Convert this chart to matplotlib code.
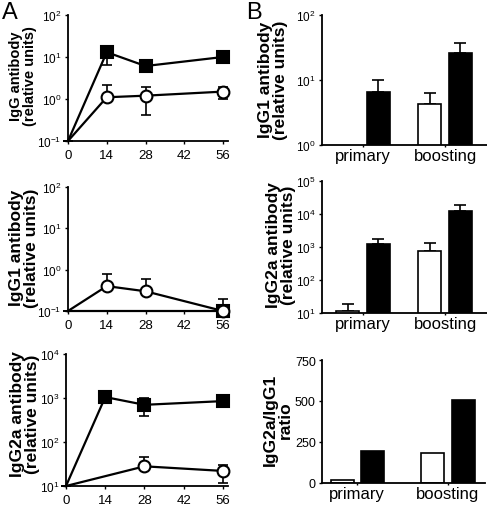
import numpy as np
import matplotlib
matplotlib.use("Agg")
import matplotlib.pyplot as plt
from matplotlib.ticker import FixedLocator, FixedFormatter

plt.rcParams['font.family'] = ['Liberation Sans', 'DejaVu Sans']
plt.rcParams['mathtext.fontset'] = 'custom'
plt.rcParams['mathtext.rm'] = 'Liberation Sans'
plt.rcParams['mathtext.it'] = 'Liberation Sans'
plt.rcParams['mathtext.bf'] = 'Liberation Sans:bold'

# ---------------- data ----------------
days = [0, 14, 28, 56]
day_ticks = [0, 14, 28, 42, 56]

# Panel A1: IgG
igg_sq = [0.1, 13, 6.1, 10]
igg_sq_lo = [0.1, 6.5, 6.1, 10]
igg_sq_hi = [0.1, 13, 6.1, 10]
igg_ci = [0.1, 1.1, 1.2, 1.5]
igg_ci_lo = [0.1, 1.1, 0.42, 1.0]
igg_ci_hi = [0.1, 2.1, 1.9, 1.9]

# Panel A2: IgG1
igg1_sq = [0.1, 0.1, 0.1, 0.1]
igg1_ci = [0.1, 0.4, 0.3, 0.1]
igg1_ci_lo = [0.1, 0.4, 0.3, 0.1]
igg1_ci_hi = [0.1, 0.78, 0.59, 0.2]

# Panel A3: IgG2a
igg2a_sq = [10, 1050, 700, 850]
igg2a_sq_lo = [10, 780, 390, 850]
igg2a_sq_hi = [10, 1050, 1000, 850]
days_ci3 = [0, 28, 56]
igg2a_ci = [10, 28, 22]
igg2a_ci_lo = [10, 28, 12]
igg2a_ci_hi = [10, 45, 30]

# Panel B
groups = ["primary", "boosting"]
b1_open = [np.nan, 4.3]
b1_open_hi = [np.nan, 6.3]
b1_black = [6.5, 26]
b1_black_hi = [10, 37]

b2_open = [11.5, 760]
b2_open_hi = [18.6, 1330]
b2_black = [1250, 12400]
b2_black_hi = [1740, 18600]

b3_open = [18, 183]
b3_black = [195, 506]

# ---------------- layout ----------------
W, H = 487, 506
fig = plt.figure(figsize=(W / 100, H / 100), dpi=100)

def add_ax(left, right, top, bottom):
    return fig.add_axes([left / W, 1 - bottom / H, (right - left) / W, (bottom - top) / H])

LW = 1.3

def style(ax):
    for s in ['top', 'right']:
        ax.spines[s].set_visible(False)
    for s in ['left', 'bottom']:
        ax.spines[s].set_linewidth(LW)
    ax.tick_params(which='both', direction='out', width=1.0, length=2.5, labelsize=8.5, pad=2)
    ax.tick_params(which='minor', length=0)

def logticks(ax, lo, hi):
    ax.set_yscale('log')
    ax.set_ylim(10.0 ** lo, 10.0 ** hi)
    exps = list(range(lo, hi + 1))
    ax.yaxis.set_major_locator(FixedLocator([10.0 ** e for e in exps]))
    ax.yaxis.set_major_formatter(FixedFormatter([r'$\mathregular{10^{%d}}$' % e for e in exps]))
    ax.yaxis.set_minor_locator(FixedLocator([]))

def err(v, lo, hi):
    v, lo, hi = np.array(v, float), np.array(lo, float), np.array(hi, float)
    return np.vstack([v - lo, hi - v])

def line_panel(ax, xs, ys, lo, hi, marker, face, mevery, z):
    if lo is not None:
        ax.errorbar(xs, ys, yerr=err(ys, lo, hi), fmt='none', ecolor='black',
                    elinewidth=1.2, capsize=3.5, capthick=1.2, zorder=z, clip_on=False)
    ax.plot(xs, ys, color='black', lw=1.6, marker=marker, ms=8.5, mfc=face,
            mec='black', mew=1.5, markevery=mevery, zorder=z + 1, clip_on=False)

def xaxis_days(ax):
    ax.set_xlim(0, 57.8)
    ax.set_xticks(day_ticks)
    ax.set_xticklabels([str(d) for d in day_ticks])
    ax.tick_params(axis='x', labelsize=9.5, pad=3)

# A1
a1 = add_ax(68, 228, 16, 142)
style(a1)
logticks(a1, -1, 2)
xaxis_days(a1)
line_panel(a1, days, igg_sq, igg_sq_lo, igg_sq_hi, 's', 'black', [1, 2, 3], 3)
line_panel(a1, days, igg_ci, igg_ci_lo, igg_ci_hi, 'o', 'white', [1, 2, 3], 5)

# A2
a2 = add_ax(68, 228, 188, 312)
style(a2)
logticks(a2, -1, 2)
xaxis_days(a2)
line_panel(a2, days, igg1_sq, None, None, 's', 'black', [3], 3)
line_panel(a2, days, igg1_ci, igg1_ci_lo, igg1_ci_hi, 'o', 'white', [1, 2, 3], 5)

# A3
a3 = add_ax(66, 228, 355, 487)
style(a3)
logticks(a3, 1, 4)
xaxis_days(a3)
line_panel(a3, days, igg2a_sq, igg2a_sq_lo, igg2a_sq_hi, 's', 'black', [1, 2, 3], 3)
line_panel(a3, days_ci3, igg2a_ci, igg2a_ci_lo, igg2a_ci_hi, 'o', 'white', [1, 2], 5)

# B bars
def bar_panel(ax, open_v, open_hi, black_v, black_hi, off, width):
    x = np.arange(len(groups))
    ax.bar(x - off, open_v, width, color='white', edgecolor='black', linewidth=1.2, zorder=2)
    ax.bar(x + off, black_v, width, color='black', edgecolor='black', linewidth=1.2, zorder=2)
    if open_hi is not None:
        ov = np.array(open_v, float)
        ax.errorbar(x - off, ov, yerr=[np.zeros_like(ov), np.array(open_hi) - ov], fmt='none',
                    ecolor='black', elinewidth=1.2, capsize=4, capthick=1.2, zorder=1)
        bv = np.array(black_v, float)
        ax.errorbar(x + off, bv, yerr=[np.zeros_like(bv), np.array(black_hi) - bv], fmt='none',
                    ecolor='black', elinewidth=1.2, capsize=4, capthick=1.2, zorder=1)
    ax.set_xticks(x)
    ax.set_xticklabels(groups)
    ax.tick_params(axis='x', length=1.5, labelsize=12, pad=1)

b1 = add_ax(322, 487, 16, 146)
style(b1)
logticks(b1, 0, 2)
bar_panel(b1, b1_open, b1_open_hi, b1_black, b1_black_hi, 0.185, 0.28)
b1.set_xlim(-0.5, 1.51)

b2 = add_ax(322, 487, 182, 314)
style(b2)
logticks(b2, 1, 5)
bar_panel(b2, b2_open, b2_open_hi, b2_black, b2_black_hi, 0.185, 0.28)
b2.set_xlim(-0.5, 1.51)

b3 = add_ax(322, 485, 361, 484)
style(b3)
bar_panel(b3, b3_open, None, b3_black, None, 0.168, 0.254)
b3.set_xlim(-0.39, 1.41)
b3.set_ylim(0, 750)
b3.set_yticks([0, 250, 500, 750])
b3.tick_params(axis='y', labelsize=9)

# y labels (figure text in pixel coordinates)
def ylab(txt, xc, yc, size):
    fig.text(xc / W, 1 - yc / H, txt, rotation=90, ha='center', va='center',
             fontsize=size, fontweight='bold', linespacing=1.0, multialignment='center')

ylab("IgG antibody\n(relative units)", 23, 76, 10.5)
ylab("IgG1 antibody\n(relative units)", 24, 248, 12.5)
ylab("IgG2a antibody\n(relative units)", 25, 414, 12.5)
ylab("IgG1 antibody\n(relative units)", 273, 80, 12.5)
ylab("IgG2a antibody\n(relative units)", 281, 245, 12.5)
ylab("IgG2a/IgG1\nratio", 278, 420, 12.5)

fig.text(2 / W, 1 - 2 / H, "A", fontsize=17, ha='left', va='top')
fig.text(246 / W, 1 - 2 / H, "B", fontsize=17, ha='left', va='top')

fig.savefig("out.png", dpi=100)
